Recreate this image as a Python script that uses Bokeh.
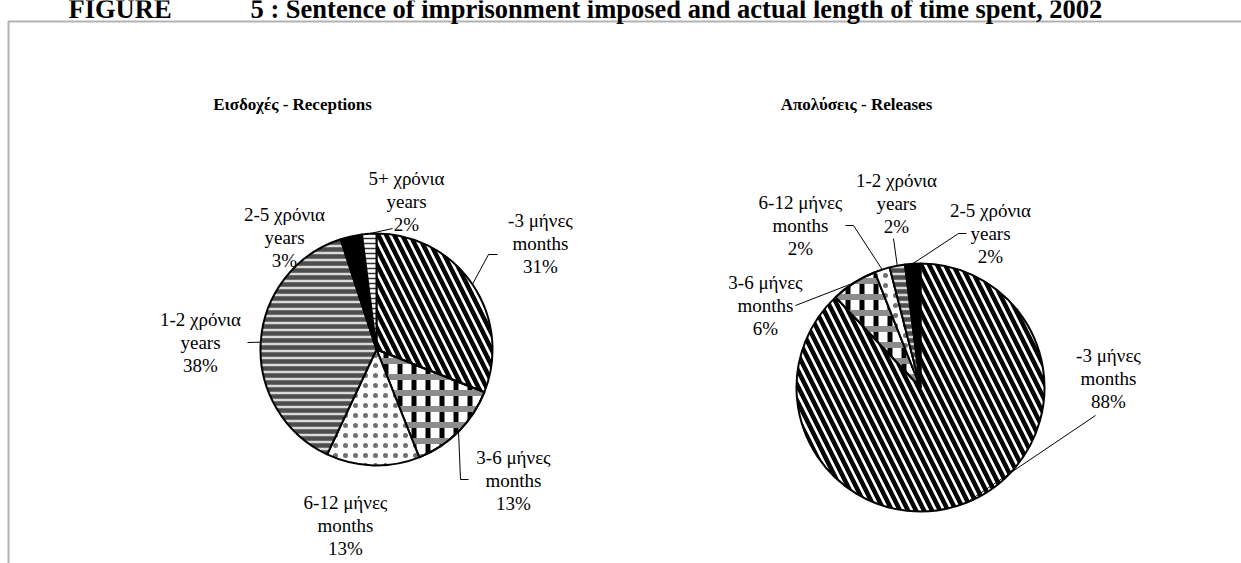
import math
from bokeh.plotting import figure
from bokeh.models import ColumnDataSource, Range1d, BoxAnnotation
from bokeh.core.properties import value
from bokeh.embed import file_html
from bokeh.resources import INLINE

# ---------------- data ----------------
categories_gr = ["-3 μήνες", "3-6 μήνες", "6-12 μήνες", "1-2 χρόνια", "2-5 χρόνια", "5+ χρόνια"]
categories_en = ["months", "months", "months", "years", "years", "years"]
receptions = [31, 13, 13, 38, 3, 2]
releases = [88, 6, 2, 2, 2, 0]
chart_titles = ["Εισδοχές - Receptions", "Απολύσεις - Releases"]
figure_label = "FIGURE"
figure_title = "5 : Sentence of imprisonment imposed and actual length of time spent, 2002"

# ---------------- layout (picture pixel coordinates) ----------------
W, H = 1241, 563
SERIF = "Liberation Serif"
LABEL_SIZE = "19px"
LINE_STEP = 23


def px(x):
    return x


def py(y):
    return H - y


# pie geometry: (cx, cy, r)
pie_left = (376, 349, 116)
pie_right = (920, 387, 124)
title_pos = [(292, 104), (856, 104)]

# label layouts per category index: (center x, middle-line y, leader points after edge point)
left_labels = {
    0: (540, 243, [(488, 254), (497, 254)]),
    1: (513, 480, [(460, 479), (468, 479)]),
    2: (345, 525, []),
    3: (200, 342, [(247, 342)]),
    4: (284, 237, []),
    5: (406, 201, [(392, 228)]),
}
right_labels = {
    0: (1108, 378, [(1095, 415)]),
    1: (765, 305, [(795, 305)]),
    2: (800, 225, [(853, 225), (845, 225)]),
    3: (896, 203, [(893, 238)]),
    4: (990, 233, [(958, 233), (966, 233)]),
}

# slice styles per category
styles = [
    dict(fill_color="white", hatch_pattern="\\", hatch_color="black", hatch_scale=16, hatch_weight=4.5),
    dict(fill_color="white", hatch_pattern="|", hatch_color="black", hatch_scale=14, hatch_weight=5),
    dict(fill_color="white", hatch_pattern=".", hatch_color="#707070", hatch_scale=10, hatch_weight=0.8),
    dict(fill_color="#d9d9d9", hatch_pattern="-", hatch_color="#4d4d4d", hatch_scale=7, hatch_weight=4.5),
    dict(fill_color="black"),
    dict(fill_color="white", hatch_pattern="-", hatch_color="#333333", hatch_scale=5, hatch_weight=1.5),
]
overlays = {
    1: dict(fill_alpha=0, hatch_pattern="-", hatch_color="#8c8c8c", hatch_scale=16, hatch_weight=6),
}

p = figure(width=W, height=H, output_backend="svg", toolbar_location=None,
           x_range=Range1d(0, W), y_range=Range1d(0, H), min_border=0)
p.axis.visible = False
p.grid.visible = False
p.outline_line_color = None
p.background_fill_color = "white"

# frame box
p.add_layout(BoxAnnotation(left=px(8), right=W + 50, top=py(21), bottom=-50,
                           fill_alpha=0, line_color="black", line_width=2))

# figure title (cut off at the top)
p.text(x=[px(68), px(250)], y=[py(8), py(8)], text=[figure_label, figure_title],
       text_font=value(SERIF), text_font_size="26.5px", text_font_style="bold",
       text_align="left", text_baseline="alphabetic", text_color="black")

lbl_x, lbl_y, lbl_t = [], [], []


def draw_pie(values, geom, layout, title, tpos):
    cx, cy, r = geom
    total = float(sum(values))
    cum = 0.0
    for i, v in enumerate(values):
        if v <= 0:
            continue
        a0 = cum / total
        a1 = (cum + v) / total
        cum += v
        start = math.pi / 2 - 2 * math.pi * a0
        end = math.pi / 2 - 2 * math.pi * a1
        p.wedge(x=[px(cx)], y=[py(cy)], radius=r, radius_units="screen",
                start_angle=start, end_angle=end, direction="clock",
                line_color="black", line_width=2, **styles[i])
        if i in overlays:
            p.wedge(x=[px(cx)], y=[py(cy)], radius=r, radius_units="screen",
                    start_angle=start, end_angle=end, direction="clock",
                    line_color="black", line_width=2, **overlays[i])
        if i in layout:
            lx, ly, pts = layout[i]
            m = (a0 + a1) / 2 * 2 * math.pi
            ex = cx + r * math.sin(m)
            ey = cy - r * math.cos(m)
            if pts:
                xs = [ex] + [q[0] for q in pts]
                ys = [ey] + [q[1] for q in pts]
                p.line([px(x) for x in xs], [py(y) for y in ys], line_color="black", line_width=1)
            lines = [categories_gr[i], categories_en[i], f"{v}%"]
            for k, t in enumerate(lines):
                lbl_x.append(px(lx))
                lbl_y.append(py(ly + (k - 1) * LINE_STEP))
                lbl_t.append(t)
    p.text(x=[px(tpos[0])], y=[py(tpos[1])], text=[title], text_font=value(SERIF),
           text_font_size="17px", text_font_style="bold", text_align="center",
           text_baseline="middle", text_color="black")


draw_pie(receptions, pie_left, left_labels, chart_titles[0], title_pos[0])
draw_pie(releases, pie_right, right_labels, chart_titles[1], title_pos[1])

src = ColumnDataSource(dict(x=lbl_x, y=lbl_y, t=lbl_t))
p.text(x="x", y="y", text="t", source=src, text_font=value(SERIF), text_font_size=LABEL_SIZE,
       text_align="center", text_baseline="middle", text_color="black")

open("out.html", "w").write(file_html(p, INLINE))
